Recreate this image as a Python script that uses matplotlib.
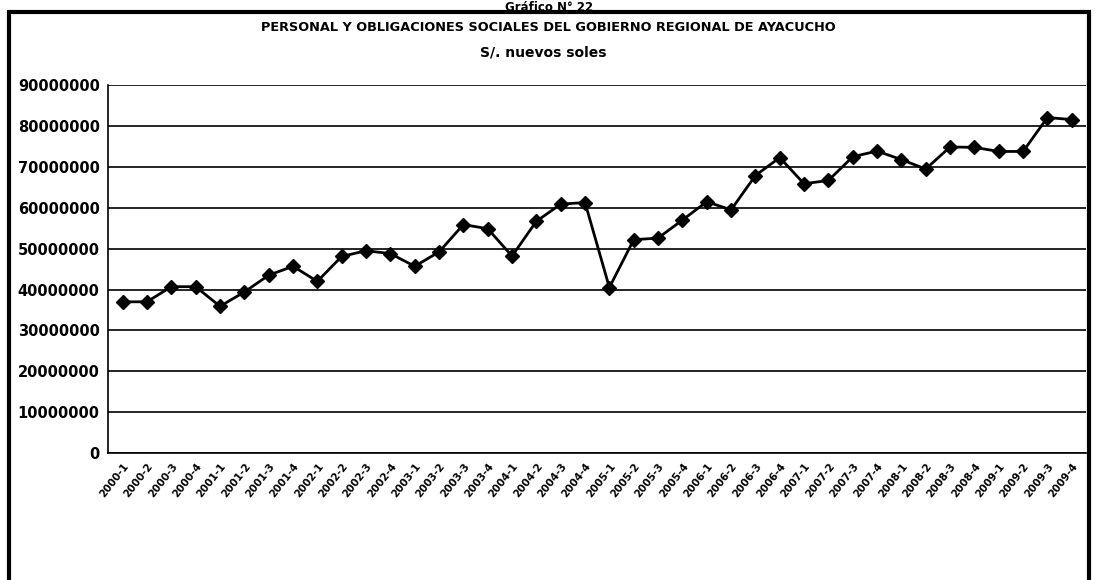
import matplotlib.pyplot as plt
from matplotlib.patches import Rectangle

# trimestres 2000-1 .. 2009-4
years = list(range(2000, 2010))
quarters = [1, 2, 3, 4]
labels = [f"{y}-{q}" for y in years for q in quarters]

# gasto en personal y obligaciones sociales (S/.)
values = [
    37000000, 37000000, 40700000, 40700000,
    35900000, 39400000, 43500000, 45700000,
    42000000, 48100000, 49500000, 48800000,
    45700000, 49200000, 55900000, 54900000,
    48200000, 56700000, 60900000, 61300000,
    40500000, 52200000, 52600000, 57000000,
    61500000, 59500000, 67900000, 72300000,
    65900000, 66700000, 72500000, 73900000,
    71800000, 69500000, 74900000, 74800000,
    73800000, 73800000, 82100000, 81600000,
]

fig = plt.figure(figsize=(10.98, 5.8), dpi=100)
ax = fig.add_axes([0.0984, 0.219, 0.891, 0.634])

x = list(range(len(labels)))
ax.plot(x, values, color='black', lw=2, marker='D', ms=7.5, zorder=3)

ax.set_ylim(0, 90000000)
ax.set_yticks(range(0, 90000001, 10000000))
ax.set_yticklabels([str(v) for v in range(0, 90000001, 10000000)],
                   fontsize=10.5, fontweight='bold')
ax.set_xlim(-0.6, len(labels) - 0.4)
ax.set_xticks(x)
ax.set_xticklabels(labels, rotation=52, ha='right', rotation_mode='anchor',
                   fontsize=7.5, fontweight='bold')
ax.tick_params(axis='both', length=0, pad=6)
ax.grid(axis='y', color='black', lw=1.2)
ax.set_axisbelow(True)
for s in ['top', 'right']:
    ax.spines[s].set_visible(False)
ax.spines['left'].set_linewidth(1.2)
ax.spines['bottom'].set_linewidth(1.2)

fig.text(0.499, 0.953, "PERSONAL Y OBLIGACIONES SOCIALES DEL GOBIERNO REGIONAL DE AYACUCHO",
         ha='center', va='center', fontsize=9.3, fontweight='bold')
fig.text(0.495, 0.91, "S/. nuevos soles", ha='center', va='center',
         fontsize=10, fontweight='bold')
fig.text(0.5, 0.999, "Gráfico N° 22", ha='center', va='top',
         fontsize=8.5, fontweight='bold')

# marco exterior
fig.patches.append(Rectangle((0.008, -0.05), 0.984, 1.03, transform=fig.transFigure,
                             fill=False, edgecolor='black', lw=3))

plt.savefig('out.png', dpi=100)
